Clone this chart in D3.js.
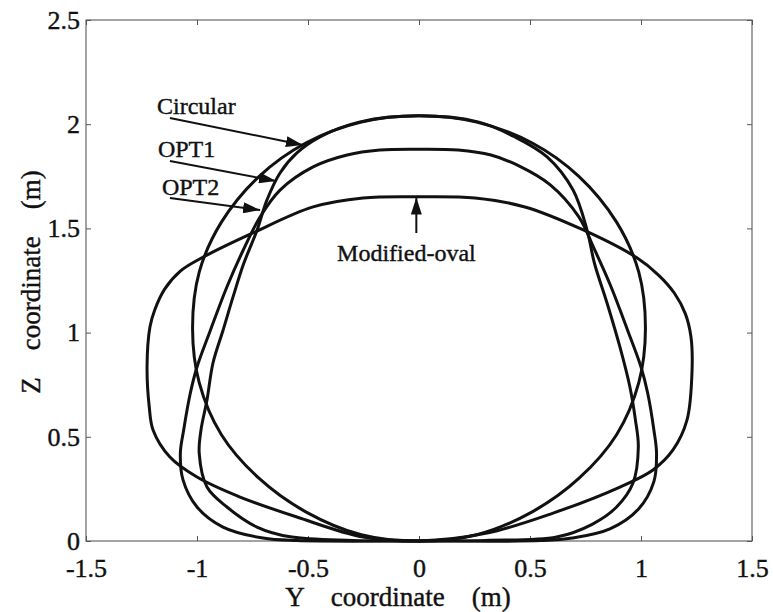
<!DOCTYPE html>
<html>
<head>
<meta charset="utf-8">
<script src="https://cdn.jsdelivr.net/npm/d3@7"></script>
<style>
body { margin: 0; background: #fff; }
text { font-family: "Liberation Serif", "Times New Roman", serif; fill: #111; stroke: #111; stroke-width: 0.4px; }
</style>
</head>
<body>
<svg id="chart" width="773" height="612"></svg>
<script>
// tick values / labels
const xTicks = [-1.5, -1, -0.5, 0, 0.5, 1, 1.5];
const xTickLabels = ["-1.5", "-1", "-0.5", "0", "0.5", "1", "1.5"];
const yTicks = [0, 0.5, 1, 1.5, 2, 2.5];
const yTickLabels = ["0", "0.5", "1", "1.5", "2", "2.5"];

// cross-section outlines, [Y, Z] in metres
const circular = [
  [0, 0], [-0.26, 0.03], [-0.51, 0.14], [-0.72, 0.30], [-0.89, 0.51], [-0.99, 0.76],
  [-1.02, 1.02], [-0.99, 1.29], [-0.89, 1.53], [-0.72, 1.75], [-0.51, 1.91], [-0.26, 2.01],
  [0, 2.04], [0.26, 2.01], [0.51, 1.91], [0.72, 1.75], [0.89, 1.53], [0.99, 1.29],
  [1.02, 1.02], [0.99, 0.76], [0.89, 0.51], [0.72, 0.30], [0.51, 0.14], [0.26, 0.03]
];
const opt1 = [
  [0, 0], [-0.30, 0.003], [-0.58, 0.02], [-0.73, 0.067], [-0.865, 0.163], [-0.955, 0.259],
  [-0.99, 0.42], [-0.982, 0.533], [-0.955, 0.677], [-0.928, 0.854], [-0.883, 1.01],
  [-0.838, 1.17], [-0.79, 1.33], [-0.73, 1.49], [-0.685, 1.636], [-0.626, 1.766],
  [-0.55, 1.862], [-0.446, 1.939], [-0.27, 2.01], [0, 2.04], [0.27, 2.01], [0.43, 1.94],
  [0.577, 1.843], [0.694, 1.684], [0.757, 1.492], [0.79, 1.334], [0.847, 1.142],
  [0.905, 0.931], [0.95, 0.739], [0.975, 0.58], [0.988, 0.451], [0.964, 0.278],
  [0.89, 0.163], [0.78, 0.08], [0.62, 0.019], [0.30, 0.003]
];
const opt2 = [
  [0, 0], [-0.55, 0.002], [-0.703, 0.014], [-0.883, 0.067], [-1.0, 0.163], [-1.063, 0.293],
  [-1.075, 0.422], [-1.06, 0.533], [-1.03, 0.71], [-1.0, 0.835], [-0.94, 1.01],
  [-0.865, 1.22], [-0.79, 1.40], [-0.716, 1.555], [-0.626, 1.684], [-0.477, 1.795],
  [-0.324, 1.852], [-0.176, 1.876], [0, 1.88], [0.176, 1.876], [0.324, 1.852],
  [0.45, 1.80], [0.59, 1.71], [0.72, 1.555], [0.79, 1.40], [0.865, 1.22], [0.94, 1.01],
  [1.0, 0.835], [1.03, 0.71], [1.058, 0.533], [1.07, 0.42], [1.058, 0.285],
  [0.99, 0.155], [0.86, 0.058], [0.69, 0.014], [0.55, 0.002]
];
const modifiedOval = [
  [0, 0], [-0.252, 0.019], [-0.55, 0.115], [-0.806, 0.211], [-1.0, 0.307], [-1.122, 0.403],
  [-1.198, 0.533], [-1.215, 0.643], [-1.225, 0.835], [-1.212, 1.027], [-1.19, 1.11],
  [-1.145, 1.21], [-1.075, 1.295], [-0.99, 1.352], [-0.748, 1.478], [-0.477, 1.603],
  [-0.252, 1.646], [0, 1.652], [0.252, 1.646], [0.477, 1.603], [0.735, 1.495],
  [0.98, 1.36], [1.08, 1.275], [1.15, 1.19], [1.2, 1.09], [1.225, 0.98], [1.23, 0.82],
  [1.207, 0.58], [1.144, 0.437], [1.054, 0.341], [0.905, 0.259], [0.604, 0.134], [0.306, 0.038]
];
const outlines = [circular, opt1, opt2, modifiedOval];

// annotations: label, text anchor point, arrow start, arrow tip (data units)
const noteLabels = ["Circular", "OPT1", "OPT2", "Modified-oval"];
const noteText = [[-1.18, 2.049], [-1.176, 1.843], [-1.158, 1.66], [-0.369, 1.345]];
const noteFrom = [[-1.122, 2.03], [-1.122, 1.823], [-1.122, 1.646], [-0.012, 1.478]];
const noteTo = [[-0.523, 1.90], [-0.644, 1.727], [-0.716, 1.588], [-0.012, 1.648]];

const W = 773, H = 612;
const m = {top: 20, right: 21, bottom: 71, left: 86};

const svg = d3.select('#chart');

const x = d3.scaleLinear().domain([-1.5, 1.5]).range([m.left, W - m.right]);
const y = d3.scaleLinear().domain([0, 2.5]).range([H - m.bottom, m.top]);

// frame
svg.append('rect')
  .attr('x', x(-1.5)).attr('y', y(2.5))
  .attr('width', x(1.5) - x(-1.5)).attr('height', y(0) - y(2.5))
  .attr('fill', 'none').attr('stroke', '#666').attr('stroke-width', 1.2);

// axes with inward ticks
const gx = svg.append('g')
  .attr('transform', `translate(0,${y(0)})`)
  .call(d3.axisBottom(x).tickValues(xTicks).tickFormat((d, i) => xTickLabels[i])
    .tickSizeInner(-5).tickSizeOuter(0).tickPadding(18));
const gy = svg.append('g')
  .attr('transform', `translate(${x(-1.5)},0)`)
  .call(d3.axisLeft(y).tickValues(yTicks).tickFormat((d, i) => yTickLabels[i])
    .tickSizeInner(-5).tickSizeOuter(0).tickPadding(6));
const gt = svg.append('g')
  .attr('transform', `translate(0,${y(2.5)})`)
  .call(d3.axisTop(x).tickValues(xTicks).tickFormat('').tickSizeInner(-5).tickSizeOuter(0));
const gr = svg.append('g')
  .attr('transform', `translate(${x(1.5)},0)`)
  .call(d3.axisRight(y).tickValues(yTicks).tickFormat('').tickSizeInner(-5).tickSizeOuter(0));

[gx, gy, gt, gr].forEach(g => {
  g.select('.domain').remove();
  g.selectAll('line').attr('stroke', '#555');
  g.attr('font-family', null).attr('font-size', null);
  g.selectAll('text').style('font-size', '26px').attr('fill', '#111');
});

// outlines
const lineGen = d3.line()
  .x(d => x(d[0]))
  .y(d => y(d[1]))
  .curve(d3.curveCatmullRomClosed.alpha(0.5));

svg.append('g').selectAll('path')
  .data(outlines)
  .enter()
  .append('path')
  .attr('d', lineGen)
  .attr('fill', 'none')
  .attr('stroke', '#111')
  .attr('stroke-width', 3)
  .attr('stroke-linejoin', 'round');

// arrow head
svg.append('defs').append('marker')
  .attr('id', 'head')
  .attr('viewBox', '0 0 17 11')
  .attr('refX', 17).attr('refY', 5.5)
  .attr('markerWidth', 17).attr('markerHeight', 11)
  .attr('markerUnits', 'userSpaceOnUse')
  .attr('orient', 'auto')
  .append('path')
  .attr('d', 'M0,0L17,5.5L0,11Z')
  .attr('fill', '#111');

const notes = svg.append('g');
noteLabels.forEach((lab, i) => {
  notes.append('line')
    .attr('x1', x(noteFrom[i][0])).attr('y1', y(noteFrom[i][1]))
    .attr('x2', x(noteTo[i][0])).attr('y2', y(noteTo[i][1]))
    .attr('stroke', '#111').attr('stroke-width', 2)
    .attr('marker-end', 'url(#head)');
  notes.append('text')
    .attr('x', x(noteText[i][0])).attr('y', y(noteText[i][1]))
    .style('font-size', '24px')
    .text(lab);
});

// axis titles
svg.append('text')
  .attr('x', 398).attr('y', 606)
  .attr('text-anchor', 'middle')
  .style('font-size', '27px')
  .style('white-space', 'pre')
  .text('Y    coordinate    (m)');

svg.append('text')
  .attr('transform', 'translate(40,282) rotate(-90)')
  .attr('text-anchor', 'middle')
  .style('font-size', '27px')
  .style('white-space', 'pre')
  .text('Z    coordinate    (m)');
</script>
</body>
</html>
